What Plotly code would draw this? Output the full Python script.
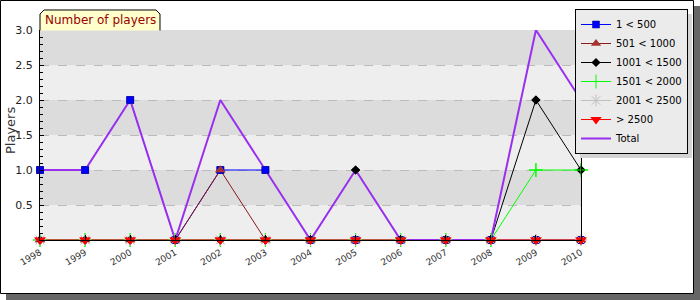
import plotly.graph_objects as go

years = [1998, 1999, 2000, 2001, 2002, 2003, 2004, 2005, 2006, 2007, 2008, 2009, 2010]
series_names = ["1 < 500", "501 < 1000", "1001 < 1500", "1501 < 2000", "2001 < 2500", "> 2500"]
s_1_500 = [1, 1, 2, 0, 1, 1, 0, 0, 0, 0, 0, 0, 0]
s_501_1000 = [0, 0, 0, 0, 1, 0, 0, 0, 0, 0, 0, 0, 0]
s_1001_1500 = [0, 0, 0, 0, 0, 0, 0, 1, 0, 0, 0, 2, 1]
s_1501_2000 = [0, 0, 0, 0, 0, 0, 0, 0, 0, 0, 0, 1, 1]
s_2001_2500 = [0, 0, 0, 0, 0, 0, 0, 0, 0, 0, 0, 0, 0]
s_2500_plus = [0, 0, 0, 0, 0, 0, 0, 0, 0, 0, 0, 0, 0]
total = [1, 1, 2, 0, 2, 1, 0, 1, 0, 0, 0, 3, 2]
y_ticks = [0.5, 1.0, 1.5, 2.0, 2.5, 3.0]
y_tick_labels = ["0.5", "1.0", "1.5", "2.0", "2.5", "3.0"]

W, H = 700, 300
L, R, T, B = 40, 581, 30, 240


def px(x):
    return (x - L) / (R - L)


def py(y):
    return (B - y) / (B - T)


styles = [
    dict(line=dict(color="#0000ff", width=1), marker=dict(symbol="square", size=7, color="#0000ff", line=dict(width=0.5, color="#000088"))),
    dict(line=dict(color="#8b1a1a", width=1), marker=dict(symbol="triangle-up", size=9, color="#a83232", line=dict(width=0))),
    dict(line=dict(color="#000000", width=1), marker=dict(symbol="diamond", size=7, color="#000000", line=dict(width=0))),
    dict(line=dict(color="#00ff00", width=1), marker=dict(symbol="cross-thin", size=10, color="#00ff00", line=dict(width=1, color="#00ff00"))),
    dict(line=dict(color="#c0c0c0", width=1), marker=dict(symbol="asterisk", size=10, color="#c0c0c0", line=dict(width=1, color="#c0c0c0"))),
    dict(line=dict(color="#ff0000", width=1), marker=dict(symbol="triangle-down", size=10, color="#ff0000", line=dict(width=0))),
]
values = [s_1_500, s_501_1000, s_1001_1500, s_1501_2000, s_2001_2500, s_2500_plus]

fig = go.Figure()
for name, vals, st in zip(series_names, values, styles):
    fig.add_trace(go.Scatter(x=years, y=vals, name=name, mode="lines+markers",
                             line=st["line"], marker=st["marker"], cliponaxis=False))
fig.add_trace(go.Scatter(x=years, y=total, name="Total", mode="lines",
                         line=dict(color="#9a2ff0", width=2), cliponaxis=False))
for name, vals, st in zip(series_names, values, styles):
    fig.add_trace(go.Scatter(x=years, y=vals, name=name, mode="markers", showlegend=False,
                             marker=st["marker"], cliponaxis=False))

shapes = [
    dict(type="rect", xref="paper", yref="paper", x0=px(6), x1=px(706), y0=py(306), y1=py(6),
         fillcolor="#666666", line=dict(width=0), layer="below"),
    dict(type="rect", xref="paper", yref="paper", x0=px(0.5), x1=px(693.5), y0=py(293.5), y1=py(0.5),
         fillcolor="#ffffff", line=dict(width=1, color="#000000"), layer="below"),
]
band_colors = ["#eeeeee", "#dcdcdc"]
for i in range(6):
    shapes.append(dict(type="rect", xref="paper", yref="y", x0=0, x1=1, y0=i * 0.5, y1=(i + 1) * 0.5,
                       fillcolor=band_colors[i % 2], line=dict(width=0), layer="below"))
# title tab
tab = [(40, 30.5), (40, 14), (44, 10), (156, 10), (160, 14), (160, 30.5)]
path = "M " + " L ".join(f"{px(x):.5f},{py(y):.5f}" for x, y in tab)
shapes.append(dict(type="path", xref="paper", yref="paper", path=path,
                   fillcolor="#ffffcc", line=dict(width=1, color="#000000"), layer="below"))
# legend shadow
shapes.append(dict(type="rect", xref="paper", yref="paper", x0=px(580), x1=px(692), y0=py(158), y1=py(14),
                   fillcolor="#d4d4d4", line=dict(width=0), layer="above"))

fig.update_layout(
    width=W, height=H,
    margin=dict(l=L, r=W - R, t=T, b=H - B, pad=0, autoexpand=False),
    paper_bgcolor="#ffffff",
    plot_bgcolor="rgba(0,0,0,0)",
    font=dict(family="DejaVu Sans", color="#222222"),
    shapes=shapes,
    showlegend=True,
    legend=dict(xref="container", yref="container", x=575 / W, y=1 - 9 / H,
                xanchor="left", yanchor="top",
                bgcolor="#ebebeb", bordercolor="#000000", borderwidth=1,
                font=dict(size=10, color="#000000", family="DejaVu Sans"),
                itemwidth=30, tracegroupgap=0),
    annotations=[
        dict(text="Number of players", xref="paper", yref="paper", x=px(100), y=py(20.5),
             xanchor="center", yanchor="middle", showarrow=False,
             font=dict(size=12, color="#990000", family="DejaVu Sans")),
        dict(text="Players", xref="paper", yref="paper", x=px(10), y=py(131),
             xanchor="center", yanchor="middle", showarrow=False, textangle=-90,
             font=dict(size=13, color="#333333", family="DejaVu Sans")),
    ],
    xaxis=dict(range=[1998, 2010], tickmode="array", tickvals=years, ticktext=[str(y) for y in years],
               ticks="inside", ticklen=5, tickcolor="#000000", showline=True, linecolor="#000000",
               linewidth=1, showgrid=False, zeroline=False, tickangle=-30, ticklabelstandoff=3,
               tickfont=dict(size=9, color="#333333")),
    yaxis=dict(range=[0, 3], tickmode="array", tickvals=y_ticks, ticktext=y_tick_labels,
               ticks="inside", ticklen=4, tickcolor="#000000", showline=True, mirror=True,
               linecolor="#000000", linewidth=1, showgrid=True, gridcolor="#bbbbbb",
               griddash="dash", gridwidth=1, zeroline=False, ticklabelstandoff=4,
               tickfont=dict(size=11, color="#222222"),
               minor=dict(dtick=0.1, tick0=0, ticks="inside", ticklen=3, tickcolor="#000000", showgrid=False)),
)

fig.write_html("out.html")
